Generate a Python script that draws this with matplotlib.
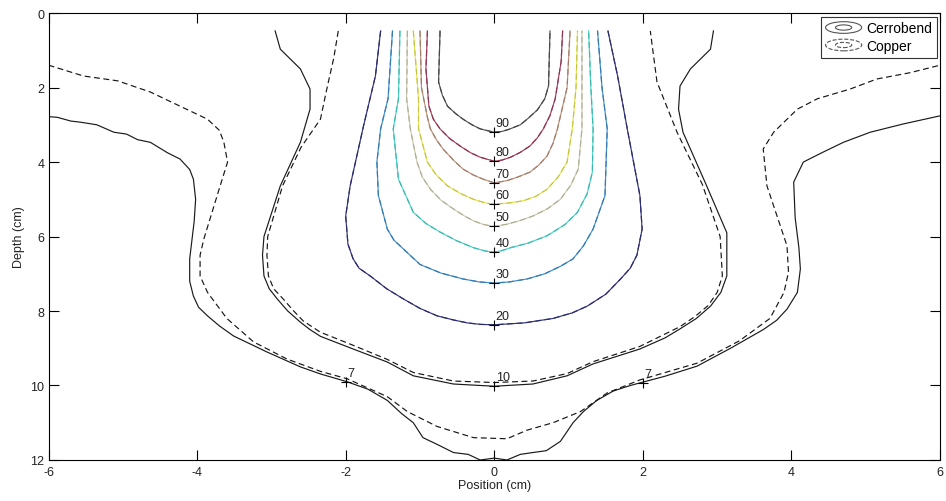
import numpy as np
import matplotlib
matplotlib.use("Agg")
from matplotlib import pyplot as plt
from matplotlib.lines import Line2D
from matplotlib.patches import Ellipse
from matplotlib.legend_handler import HandlerBase

plt.rcParams['font.family'] = ['Liberation Sans', 'DejaVu Sans']
plt.rcParams['axes.unicode_minus'] = False

# isodose lines, (position cm, depth cm)
# 7 % and 10 % differ between the two blocks, the inner ones coincide
cerro_7 = [(-6.00, 2.78), (-5.88, 2.80), (-5.70, 2.90), (-5.57, 2.93), (-5.35, 3.00), (-5.12, 3.20),
           (-4.95, 3.25), (-4.80, 3.40), (-4.63, 3.47), (-4.40, 3.75), (-4.23, 3.92), (-4.10, 4.20),
           (-4.05, 4.46), (-4.02, 5.00), (-4.04, 5.60), (-4.07, 6.10), (-4.10, 6.60), (-4.10, 7.20),
           (-4.05, 7.60), (-3.98, 7.90), (-3.86, 8.13), (-3.70, 8.40), (-3.51, 8.67), (-3.06, 9.10),
           (-2.61, 9.50), (-2.34, 9.69),
           (-1.98, 9.90), (-1.70, 10.10), (-1.44, 10.40), (-1.25, 10.75), (-1.09, 11.00), (-0.96, 11.40),
           (-0.75, 11.60), (-0.55, 11.80), (-0.35, 11.85), (-0.19, 12.00), (0.00, 11.95), (0.17, 12.00),
           (0.35, 11.85), (0.52, 11.80), (0.70, 11.75), (0.89, 11.50), (1.06, 11.00), (1.20, 10.70),
           (1.38, 10.40), (1.60, 10.15), (1.83, 10.00), (2.30, 9.75), (2.73, 9.48), (3.18, 9.00),
           (3.62, 8.50), (3.80, 8.25), (3.94, 7.95), (4.08, 7.50), (4.12, 6.87), (4.10, 6.30),
           (4.05, 5.50), (4.03, 4.54), (4.16, 4.00), (4.43, 3.73), (4.70, 3.47),
           (5.06, 3.20), (5.50, 2.98), (6.00, 2.76)]
copper_7 = [(-6.00, 1.40), (-5.53, 1.69), (-5.07, 1.82), (-4.63, 2.12), (-4.23, 2.50), (-3.86, 2.85),
            (-3.70, 3.15), (-3.64, 3.47), (-3.59, 4.00), (-3.69, 4.64), (-3.91, 6.07), (-3.96, 6.50),
            (-3.96, 7.06), (-3.86, 7.50), (-3.60, 8.20), (-3.24, 8.83), (-2.79, 9.29), (-2.34, 9.62),
            (-1.98, 9.82), (-1.44, 10.30), (-1.17, 10.70), (-0.77, 11.10), (-0.28, 11.40), (0.17, 11.43),
            (0.44, 11.20), (0.79, 11.00), (1.16, 10.70), (1.52, 10.20), (1.96, 9.85), (2.73, 9.40),
            (3.30, 8.80), (3.71, 8.20), (3.90, 7.50), (3.96, 6.95), (3.94, 6.25), (3.67, 4.64),
            (3.62, 3.65), (3.76, 3.20), (4.08, 2.58), (4.35, 2.30), (4.79, 2.04), (5.15, 1.77),
            (5.60, 1.60), (6.00, 1.40)]
cerro_10 = [(-2.95, 0.48), (-2.88, 0.97), (-2.61, 1.50), (-2.48, 2.04), (-2.48, 2.58), (-2.61, 3.47),
            (-2.88, 4.64), (-3.10, 6.00), (-3.12, 6.50), (-3.10, 7.06), (-3.03, 7.40), (-2.92, 7.68),
            (-2.78, 8.00), (-2.61, 8.30), (-2.48, 8.50), (-2.34, 8.68), (-1.90, 9.02), (-1.44, 9.37),
            (-1.09, 9.74), (-0.55, 9.96), (0.00, 10.02), (0.52, 9.96), (0.98, 9.74), (1.33, 9.42),
            (1.96, 9.02), (2.30, 8.72), (2.50, 8.48), (2.72, 8.20), (2.91, 7.87), (3.05, 7.50),
            (3.13, 7.06), (3.13, 5.90), (2.85, 4.60), (2.54, 3.20), (2.48, 2.58), (2.50, 1.96),
            (2.64, 1.50), (2.91, 0.97), (2.95, 0.48)]
copper_10 = [(-2.10, 0.48), (-2.16, 1.20), (-2.25, 2.00), (-2.34, 2.85), (-2.60, 3.60), (-2.85, 4.64),
             (-3.05, 6.00), (-3.06, 6.50), (-3.04, 7.06), (-2.97, 7.40), (-2.84, 7.68), (-2.70, 8.00),
             (-2.57, 8.27), (-2.34, 8.57), (-1.90, 8.92), (-1.44, 9.30), (-1.09, 9.65), (-0.55, 9.88),
             (0.00, 9.92), (0.52, 9.88), (0.98, 9.68), (1.33, 9.36), (1.96, 8.95), (2.50, 8.42),
             (2.70, 8.15), (2.88, 7.85), (3.00, 7.50), (3.07, 7.06), (3.04, 6.00), (2.80, 4.60),
             (2.46, 3.20), (2.19, 1.85), (2.10, 0.48)]
iso_20 = [(-1.53, 0.48), (-1.60, 1.69), (-1.76, 3.03), (-1.94, 4.64), (-2.00, 5.45), (-1.97, 6.20),
          (-1.90, 6.60), (-1.82, 6.85), (-1.67, 7.06), (-1.45, 7.40), (-1.22, 7.68), (-1.00, 7.93),
          (-0.77, 8.13), (-0.55, 8.24), (-0.36, 8.32), (-0.18, 8.36), (0.00, 8.37), (0.40, 8.32),
          (0.79, 8.20), (1.05, 8.05), (1.25, 7.87), (1.50, 7.55), (1.70, 7.14), (1.83, 6.85),
          (1.92, 6.50), (1.99, 5.80), (1.96, 4.90), (1.79, 3.11), (1.66, 1.69), (1.53, 0.48)]
iso_30 = [(-1.37, 0.48), (-1.43, 2.30), (-1.53, 3.11), (-1.58, 4.00), (-1.56, 4.90), (-1.44, 5.80),
          (-1.35, 6.10), (-1.22, 6.34), (-1.00, 6.75), (-0.72, 6.98), (-0.42, 7.14), (-0.20, 7.22),
          (0.00, 7.25), (0.20, 7.22), (0.44, 7.14), (0.68, 7.00), (0.89, 6.80), (1.06, 6.60),
          (1.20, 6.25), (1.33, 5.80), (1.49, 4.90), (1.52, 3.11), (1.45, 2.00), (1.39, 0.48)]
iso_40 = [(-1.27, 0.48), (-1.29, 2.30), (-1.36, 3.11), (-1.29, 4.46), (-1.09, 5.35), (-0.92, 5.65),
          (-0.73, 5.88), (-0.50, 6.12), (-0.28, 6.30), (-0.12, 6.39), (0.00, 6.42), (0.10, 6.38),
          (0.22, 6.30), (0.45, 6.18), (0.71, 5.98), (0.95, 5.68), (1.12, 5.35), (1.25, 4.85),
          (1.32, 4.27), (1.33, 3.11), (1.30, 2.00), (1.27, 0.48)]
iso_50 = [(-1.17, 0.48), (-1.18, 2.30), (-1.13, 3.11), (-1.04, 4.00), (-0.97, 4.40), (-0.86, 4.73),
          (-0.72, 5.02), (-0.55, 5.26), (-0.40, 5.45), (-0.28, 5.58), (-0.14, 5.68), (0.00, 5.73),
          (0.17, 5.67), (0.35, 5.57), (0.52, 5.45), (0.72, 5.25), (0.89, 5.00), (1.03, 4.62),
          (1.13, 4.19), (1.18, 3.11), (1.18, 2.00), (1.18, 0.48)]
iso_60 = [(-1.09, 0.48), (-1.02, 2.30), (-1.02, 3.11), (-0.90, 4.00), (-0.78, 4.35), (-0.63, 4.64),
          (-0.45, 4.85), (-0.28, 5.00), (-0.12, 5.10), (0.00, 5.13), (0.20, 5.10), (0.39, 5.04),
          (0.56, 4.92), (0.71, 4.73), (0.86, 4.40), (0.98, 4.00), (1.05, 3.11), (1.10, 2.00),
          (1.12, 0.48)]
iso_70 = [(-1.00, 0.48), (-0.98, 2.00), (-0.90, 2.80), (-0.86, 3.11), (-0.78, 3.40), (-0.69, 3.65),
          (-0.55, 3.95), (-0.42, 4.19), (-0.28, 4.35), (-0.15, 4.46), (0.00, 4.56), (0.17, 4.50),
          (0.32, 4.40), (0.48, 4.27), (0.60, 4.08), (0.71, 3.84), (0.79, 3.50), (0.85, 3.11),
          (0.98, 2.00), (1.02, 0.48)]
iso_80 = [(-0.90, 0.48), (-0.92, 1.50), (-0.88, 2.50), (-0.82, 2.85), (-0.73, 3.11), (-0.60, 3.37),
          (-0.46, 3.57), (-0.32, 3.75), (-0.19, 3.87), (0.00, 3.98), (0.10, 3.95), (0.22, 3.87),
          (0.35, 3.74), (0.48, 3.57), (0.58, 3.35), (0.66, 3.11), (0.75, 2.75), (0.82, 2.30),
          (0.90, 1.30), (0.92, 0.48)]
iso_90 = [(-0.73, 0.48), (-0.75, 1.85), (-0.70, 2.20), (-0.63, 2.50), (-0.52, 2.70), (-0.42, 2.85),
          (-0.30, 3.00), (-0.19, 3.11), (0.00, 3.20), (0.10, 3.18), (0.20, 3.12), (0.35, 3.00),
          (0.46, 2.82), (0.58, 2.60), (0.68, 2.30), (0.73, 1.96), (0.75, 0.48)]

levels = [7, 10, 20, 30, 40, 50, 60, 70, 80, 90]
cerrobend = [cerro_7, cerro_10, iso_20, iso_30, iso_40, iso_50, iso_60, iso_70, iso_80, iso_90]
copper = [copper_7, copper_10, iso_20, iso_30, iso_40, iso_50, iso_60, iso_70, iso_80, iso_90]
level_colors = ['#1a1a1a', '#1a1a1a', '#34347e', '#3f90cc', '#4ad6ca', '#cfcbb0',
                '#e6e552', '#bd937c', '#a6405f', '#555555']

# where clabel put its '+' marks
label_x = [-2.0, 2.0, 0.0, 0.0, 0.0, 0.0, 0.0, 0.0, 0.0, 0.0, 0.0]
label_y = [9.90, 9.92, 10.02, 8.37, 7.25, 6.42, 5.73, 5.13, 4.56, 3.98, 3.20]
label_txt = ['7', '7', '10', '20', '30', '40', '50', '60', '70', '80', '90']


class ContourIcon(HandlerBase):
    def __init__(self, ls):
        super().__init__()
        self.ls = ls

    def create_artists(self, legend, orig_handle, xdescent, ydescent, width, height, fontsize, trans):
        cx, cy = width / 2 - xdescent, height / 2 - ydescent
        out = []
        for k in (1.0, 0.45):
            out.append(Ellipse((cx, cy), width * k, height * 1.2 * k, fill=False, ec='#555555',
                               lw=0.8, ls=self.ls, transform=trans))
        return out


fig = plt.figure(figsize=(9.46, 5.02), dpi=100)
ax = fig.add_axes([0.0513, 0.0817, 0.9424, 0.8903])

for pts, col in zip(cerrobend, level_colors):
    p = np.array(pts)
    ax.plot(p[:, 0], p[:, 1], '-', color=col, lw=0.85)
for pts, col in zip(copper, level_colors):
    p = np.array(pts)
    c = np.array(matplotlib.colors.to_rgb(col)) * 0.85
    ax.plot(p[:, 0], p[:, 1], '--', color=c, lw=0.85, dashes=(5, 3))

ax.plot(label_x, label_y, '+', color='k', ms=7, mew=0.8, ls='none')
for x, y, t in zip(label_x, label_y, label_txt):
    ax.text(x + 0.02, y - 0.08, t, fontsize=9, color='#222222', ha='left', va='bottom')

ax.set_xlim(-6, 6)
ax.set_ylim(12, 0)
ax.set_xticks(np.arange(-6, 7, 2))
ax.set_yticks(np.arange(0, 13, 2))
ax.tick_params(direction='in', length=7, width=0.8, top=True, right=True,
               labelsize=9, labelcolor='#222222')
ax.tick_params(axis='x', pad=4)
ax.tick_params(axis='y', pad=3)
for s in ax.spines.values():
    s.set_linewidth(0.8)
ax.set_xlabel('Position (cm)', fontsize=9, color='#222222', labelpad=1)
ax.set_ylabel('Depth (cm)', fontsize=9, color='#222222', labelpad=4)

h1 = Line2D([], [], color='#555555')
h2 = Line2D([], [], color='#555555', ls='--')
leg = ax.legend([h1, h2], ['Cerrobend', 'Copper'], loc='upper right', fontsize=10,
                handler_map={h1: ContourIcon('-'), h2: ContourIcon('--')},
                frameon=True, fancybox=False, edgecolor='#333333', framealpha=1,
                borderaxespad=0.25, handlelength=2.6, handletextpad=0.3, labelspacing=0.25,
                borderpad=0.35)
leg.get_frame().set_linewidth(0.8)

fig.savefig('out.png', dpi=100)
